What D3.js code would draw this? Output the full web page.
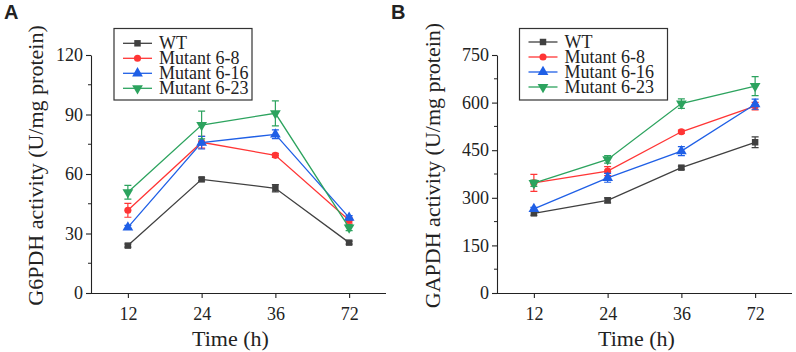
<!DOCTYPE html>
<html><head><meta charset="utf-8">
<script src="https://cdn.jsdelivr.net/npm/d3@7"></script>
<style>
html,body{margin:0;padding:0;background:#fff;}
svg{display:block;}
text{font-family:"Liberation Serif","Times New Roman",serif;fill:#222;}
</style></head>
<body>
<svg id="chart" width="796" height="352"></svg>
<script>
// ---- data ----
const times = ["12", "24", "36", "72"];
const seriesNames = ["WT", "Mutant 6-8", "Mutant 6-16", "Mutant 6-23"];

const g6pdhWT   = [23.9, 57.3, 52.8, 25.4];
const g6pdhWTErr = [0.8, 0.8, 1.8, 0.8];
const g6pdh68   = [41.7, 76.0, 69.4, 36.7];
const g6pdh68Err = [3.5, 3.0, 1.0, 1.5];
const g6pdh616  = [33.1, 75.8, 80.0, 38.0];
const g6pdh616Err = [1.0, 3.2, 2.2, 1.0];
const g6pdh623  = [50.8, 84.7, 90.6, 33.0];
const g6pdh623Err = [3.5, 7.0, 6.3, 1.5];

const gapdhWT   = [251, 292, 395, 475];
const gapdhWTErr = [6, 8, 5, 17];
const gapdh68   = [347, 384, 508, 589];
const gapdh68Err = [27, 14, 5, 12];
const gapdh616  = [265, 363, 447, 595];
const gapdh616Err = [5, 14, 14, 16];
const gapdh623  = [346, 421, 597, 652];
const gapdh623Err = [10, 12, 15, 30];

const g6pdhTicks = [0, 30, 60, 90, 120];
const gapdhTicks = [0, 150, 300, 450, 600, 750];

const colors = ["#404040", "#ff3535", "#1f5fe6", "#2ca35e"];
const shapes = [d3.symbolSquare, d3.symbolCircle, d3.symbolTriangle, "down"];

const svg = d3.select("#chart");

function marker(g, shapeIdx, x, y, color) {
  const s = shapes[shapeIdx];
  if (s === "down") {
    g.append("path").attr("d", d3.symbol(d3.symbolTriangle, 50)())
      .attr("transform", `translate(${x},${y}) rotate(180)`)
      .attr("fill", color);
  } else {
    const size = s === d3.symbolSquare ? 42 : (s === d3.symbolCircle ? 40 : 50);
    g.append("path").attr("d", d3.symbol(s, size)())
      .attr("transform", `translate(${x},${y})`)
      .attr("fill", color);
  }
}

function panel(opt) {
  const g = svg.append("g");
  const x = d3.scalePoint().domain(times).range([opt.x0, opt.x1]).padding(0.5);
  const y = d3.scaleLinear().domain([0, opt.ticks[opt.ticks.length - 1]]).range([293, 55]);

  // minor ticks on y
  const step = opt.ticks[1] - opt.ticks[0];
  const minor = opt.ticks.slice(0, -1).map(t => t + step / 2);
  g.selectAll(".minor").data(minor).enter().append("line")
    .attr("x1", opt.x0).attr("x2", opt.x0 - 3)
    .attr("y1", d => y(d)).attr("y2", d => y(d))
    .attr("stroke", "#222").attr("stroke-width", 1);

  const yAxis = g.append("g").attr("transform", `translate(${opt.x0},0)`)
    .call(d3.axisLeft(y).tickValues(opt.ticks).tickSize(5).tickPadding(3).tickSizeOuter(0));
  const xAxis = g.append("g").attr("transform", `translate(0,293)`)
    .call(d3.axisBottom(x).tickSize(5).tickPadding(9).tickSizeOuter(0));
  [yAxis, xAxis].forEach(a => {
    a.selectAll("path,line").attr("stroke", "#222").attr("stroke-width", 1.1);
    a.selectAll("text").attr("font-family", "Liberation Serif").attr("font-size", 18).attr("fill", "#222");
  });
  xAxis.select(".domain").attr("d", `M${opt.x0},0.5H${opt.x1}`);

  // series
  opt.data.forEach((vals, i) => {
    const errs = opt.errs[i];
    const color = colors[i];
    const sg = g.append("g");
    sg.append("path")
      .attr("d", d3.line().x((d, j) => x(times[j])).y(d => y(d))(vals))
      .attr("fill", "none").attr("stroke", color).attr("stroke-width", 1.3);
    vals.forEach((v, j) => {
      const cx = x(times[j]);
      const e = errs[j];
      sg.append("path")
        .attr("d", `M${cx},${y(v - e)}V${y(v + e)}M${cx - 3.5},${y(v - e)}H${cx + 3.5}M${cx - 3.5},${y(v + e)}H${cx + 3.5}`)
        .attr("stroke", color).attr("stroke-width", 1.2).attr("fill", "none");
      marker(sg, i, cx, y(v), color);
    });
  });

  // legend
  const lg = g.append("g");
  lg.append("rect").attr("x", opt.lx).attr("y", 28.5).attr("width", opt.lw).attr("height", 71.5)
    .attr("fill", "#fff").attr("stroke", "#333").attr("stroke-width", 1.2);
  seriesNames.forEach((name, i) => {
    const ly = opt.ly0 + i * 15;
    lg.append("line").attr("x1", opt.lx + 9).attr("x2", opt.lx + 38)
      .attr("y1", ly).attr("y2", ly).attr("stroke", colors[i]).attr("stroke-width", 1.3);
    marker(lg, i, opt.lx + 23.5, ly, colors[i]);
    lg.append("text").attr("x", opt.lx + 45).attr("y", ly + 6)
      .attr("font-size", 18).text(name);
  });

  // titles
  g.append("text").attr("x", (opt.x0 + opt.x1) / 2 - 8).attr("y", 346)
    .attr("text-anchor", "middle").attr("font-size", 22).text("Time (h)");
  g.append("text").attr("transform", `translate(${opt.ytx},165.5) rotate(-90)`)
    .attr("text-anchor", "middle").attr("font-size", 22).text(opt.ytitle);
  g.append("text").attr("x", opt.px).attr("y", 19)
    .attr("font-family", "Liberation Sans, Arial, sans-serif").attr("font-weight", "bold")
    .attr("font-size", 20).attr("fill", "#000").style("font-family", "'Liberation Sans', Arial, sans-serif")
    .text(opt.label);
}

panel({
  x0: 91, x1: 386, ticks: g6pdhTicks,
  data: [g6pdhWT, g6pdh68, g6pdh616, g6pdh623],
  errs: [g6pdhWTErr, g6pdh68Err, g6pdh616Err, g6pdh623Err],
  lx: 114, lw: 138, ly0: 43.3,
  ytx: 43, ytitle: "G6PDH activity (U/mg protein)",
  px: 4, label: "A"
});
panel({
  x0: 497, x1: 792, ticks: gapdhTicks,
  data: [gapdhWT, gapdh68, gapdh616, gapdh623],
  errs: [gapdhWTErr, gapdh68Err, gapdh616Err, gapdh623Err],
  lx: 519.5, lw: 148, ly0: 42,
  ytx: 440, ytitle: "GAPDH activity (U/mg protein)",
  px: 391, label: "B"
});
</script>
</body></html>
